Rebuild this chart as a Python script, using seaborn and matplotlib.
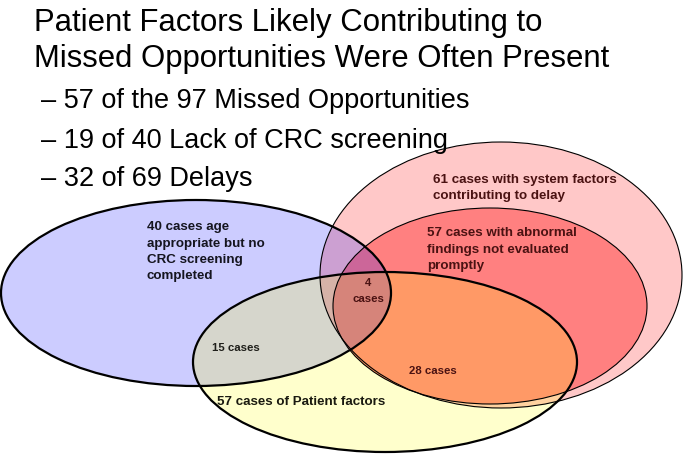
import matplotlib
matplotlib.use("Agg")
import matplotlib.pyplot as plt
from matplotlib.patches import Ellipse
import seaborn as sns

# --- chart content -------------------------------------------------------
title_lines = ["Patient Factors Likely Contributing to",
               "Missed Opportunities Were Often Present"]
bullet_lines = ["\u2013 57 of the 97 Missed Opportunities",
                "\u2013 19 of 40 Lack of CRC screening",
                "\u2013 32 of 69 Delays"]

set_names = ["system", "abnormal", "screening", "patient"]
set_counts = [61, 57, 40, 57]
set_labels = ["{} cases with system factors\ncontributing to delay",
              "{} cases with abnormal\nfindings not evaluated\npromptly",
              "{} cases age\nappropriate but no\nCRC screening\ncompleted",
              "{} cases of Patient factors"]

overlap_names = ["screening+patient+abnormal", "screening+patient", "patient+abnormal"]
overlap_counts = [4, 15, 28]
overlap_labels = ["{}\ncases", "{} cases", "{} cases"]

# --- layout (pixel space of the 685x455 slide) ---------------------------
shape_center = [(501, 275), (490, 306), (196, 293), (385, 362)]
shape_size = [(362, 266), (314, 196), (390, 186), (384, 180)]
shape_fill = ["#FFC8C8", "#FF8080", "#0000FF", "#FFFF00"]
shape_alpha = [1.0, 1.0, 0.2, 0.2]
shape_lw = [0.8, 0.8, 1.6, 1.6]

# baseline of the first line of each label
set_label_pos = [(433, 183), (427, 236.5), (147, 230), (217, 405)]
set_label_color = ["#4a1212", "#4a1212", "#15151f", "#1a1a10"]
overlap_label_pos = [(368, 286.5), (212, 351), (409, 374)]
overlap_label_color = ["#4a1212", "#1f1f1a", "#4a1212"]

sns.set_theme(style="white")
plt.rcParams["font.family"] = ["Liberation Sans", "DejaVu Sans"]

fig = plt.figure(figsize=(6.85, 4.55), dpi=100)
ax = fig.add_axes([0, 0, 1, 1])
ax.set_xlim(0, 685)
ax.set_ylim(455, 0)
ax.axis("off")

# fills first, outlines on top so every border stays visible
for (cx, cy), (w, h), fc, a in zip(shape_center, shape_size, shape_fill, shape_alpha):
    ax.add_patch(Ellipse((cx, cy), w, h, facecolor=fc, alpha=a, edgecolor="none", zorder=1))
for (cx, cy), (w, h), lw in zip(shape_center, shape_size, shape_lw):
    ax.add_patch(Ellipse((cx, cy), w, h, facecolor="none", edgecolor="black", lw=lw, zorder=2))

for i, line in enumerate(title_lines):
    ax.text(34, 31.5 + i * 36, line, fontsize=22.4, va="baseline", ha="left", color="black")
for i, line in enumerate(bullet_lines):
    ax.text(41, 108.5 + i * 39, line, fontsize=19.5, va="baseline", ha="left", color="black")


def put_label(text, x, y, color, size, step, ha):
    # one text per line so the spacing matches the slide exactly
    for j, line in enumerate(text.split("\n")):
        ax.text(x, y + j * step, line, fontsize=size, fontweight="bold", va="baseline",
                ha=ha, color=color, zorder=3)


for lab, n, (x, y), c in zip(set_labels, set_counts, set_label_pos, set_label_color):
    put_label(lab.format(n), x, y, c, 9.6, 16.5, "left")

for k, (lab, n, (x, y), c) in enumerate(zip(overlap_labels, overlap_counts, overlap_label_pos,
                                             overlap_label_color)):
    put_label(lab.format(n), x, y, c, 8.2, 15, "center" if k == 0 else "left")

fig.savefig("out.png", dpi=100)
